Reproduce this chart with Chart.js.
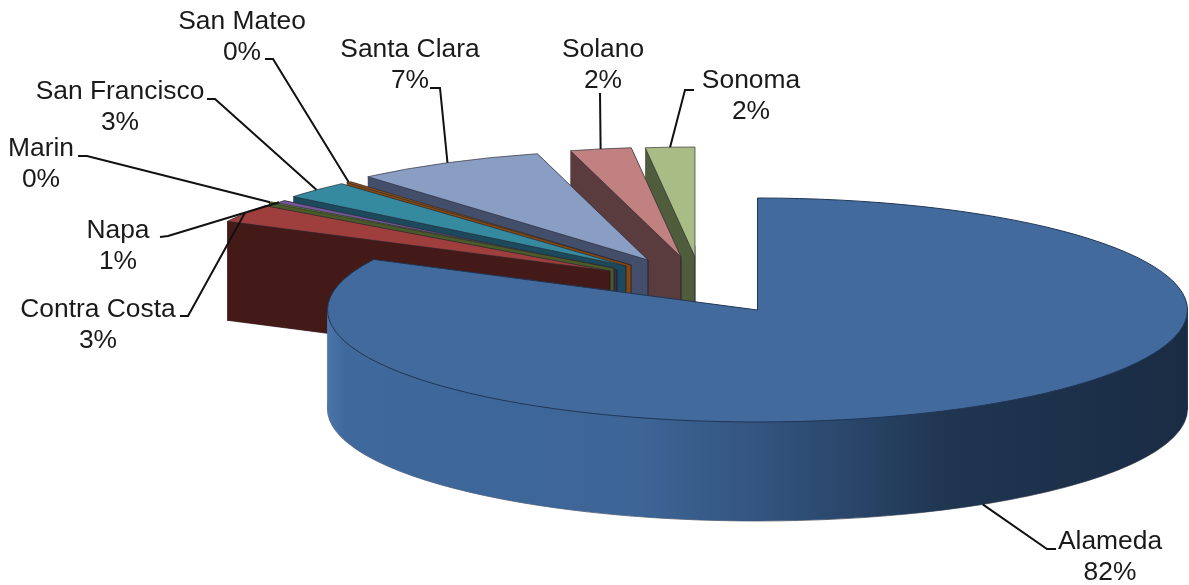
<!DOCTYPE html>
<html>
<head>
<meta charset="utf-8">
<title>Counties</title>
<script src="https://cdn.jsdelivr.net/npm/chart.js@4"></script>
<style>
    html, body { margin: 0; padding: 0; background: #fff; }
    canvas { display: block; }
</style>
</head>
<body>
<canvas id="pieChart" width="1189" height="585"></canvas>
<script>
const counties = ['Alameda', 'Contra Costa', 'Marin', 'Napa', 'San Francisco', 'San Mateo', 'Santa Clara', 'Solano', 'Sonoma'];
const shares = [82.45, 2.67, 0.15, 0.6, 2.6, 0.2, 7.18, 2.3, 1.85];

// colours of the top faces and of the side walls
const topColors = ['#436a9c', '#9e3f3d', '#77923c', '#6f5796', '#368a9f', '#8f5118', '#8a9dc3', '#c08180', '#a9bc86'];
const wallColors = ['#3d6596', '#441a18', '#4a5a28', '#3a2d52', '#1c4a5c', '#85490f', '#434e6a', '#5b3c3e', '#505d3c'];

// where each exploded slice has its point, and how big it is drawn
const centerX = [757.5, 610, 614, 617, 626, 631, 648, 681, 695];
const centerY = [310, 271, 268, 270, 266, 265, 260, 257, 257];
const radiusX = [430, 429, 429, 429, 429, 429, 429, 429, 429];
const radiusY = [112, 110, 110, 110, 110, 110, 110, 110, 110];
const depth = 99;

// label centre and baselines, then the elbow of the leader line
const labelX = [1110, 98, 41, 118, 120, 242, 410, 603, 751];
const labelY = [549, 317, 156, 238, 99, 29, 57, 57, 88];
const elbowA = [[1056, 549], [180, 316], [78, 156], [160, 237], [207, 99], [265, 59], [430, 88], [600, 93], [694, 90]];
const elbowB = [[1047, 549], [188, 316], [87, 156], [168, 236], [215, 99], [273, 59], [440, 88], [600, 93], [685, 90]];

function drawArc(ctx, arc, i, color, shift) {
    const sx = radiusX[i] / arc.outerRadius;
    const sy = radiusY[i] / arc.outerRadius;
    const saved = arc.options;
    ctx.save();
    ctx.translate(centerX[i], centerY[i] + shift);
    ctx.scale(sx, sy);
    ctx.translate(-arc.x, -arc.y);
    arc.options = Object.assign(Object.create(saved), { backgroundColor: color });
    arc.draw(ctx);
    arc.options = saved;
    ctx.restore();
}

function outline(ctx, arc, i, shift, color) {
    ctx.beginPath();
    ctx.moveTo(centerX[i], centerY[i] + shift);
    ctx.ellipse(centerX[i], centerY[i] + shift, radiusX[i], radiusY[i], 0, arc.startAngle, arc.endAngle);
    ctx.closePath();
    ctx.strokeStyle = color;
    ctx.lineWidth = 1;
    ctx.stroke();
}

// flat side of a slice, from its point out to the rim at this angle
function sideFace(ctx, i, angle, color) {
    const x = centerX[i] + Math.cos(angle) * radiusX[i];
    const y = centerY[i] + Math.sin(angle) * radiusY[i];
    ctx.beginPath();
    ctx.moveTo(centerX[i], centerY[i]);
    ctx.lineTo(x, y);
    ctx.lineTo(x, y + depth);
    ctx.lineTo(centerX[i], centerY[i] + depth);
    ctx.closePath();
    ctx.fillStyle = color;
    ctx.fill();
}

function wallGradient(ctx, arc, i) {
    const sx = radiusX[i] / arc.outerRadius;
    const toLocal = x => arc.x + (x - centerX[i]) / sx;
    const left = 328, right = 1187;
    const g = ctx.createLinearGradient(toLocal(left), 0, toLocal(right), 0);
    const stops = [[328, '#4b75a9'], [345, '#3f689c'], [640, '#3d6596'], [800, '#2f4e76'], [950, '#1f3550'], [1187, '#1a2c44']];
    stops.forEach(s => g.addColorStop((s[0] - left) / (right - left), s[1]));
    return g;
}

const pie3d = {
    id: 'pie3d',
    beforeDatasetDraw(chart) {
        const ctx = chart.ctx;
        const arcs = chart.getDatasetMeta(0).data;
        // back slices first, Alameda last since it sits in front of all
        const order = arcs.map((a, i) => i).slice(1).reverse().concat([0]);
        order.forEach(i => {
            const arc = arcs[i];
            const wall = i === 0 ? wallGradient(ctx, arc, i) : wallColors[i];
            outline(ctx, arc, i, depth, 'rgba(30,30,40,0.6)');
            for (let d = depth; d > 0; d--) drawArc(ctx, arc, i, wall, d);
            if (i > 0) {
                sideFace(ctx, i, arc.startAngle, wall);
                sideFace(ctx, i, arc.endAngle, wall);
                ctx.beginPath();
                ctx.moveTo(centerX[i], centerY[i]);
                ctx.lineTo(centerX[i], centerY[i] + depth);
                ctx.strokeStyle = 'rgba(20,20,30,0.7)';
                ctx.lineWidth = 1;
                ctx.stroke();
            }
            drawArc(ctx, arc, i, topColors[i], 0);
            outline(ctx, arc, i, 0, i === 0 ? '#1f3656' : 'rgba(40,40,50,0.65)');
        });
        return false;
    },
    afterDraw(chart) {
        const ctx = chart.ctx;
        const arcs = chart.getDatasetMeta(0).data;
        ctx.save();
        ctx.fillStyle = '#1a1a1a';
        ctx.font = '26.4px "Liberation Sans", Arial, sans-serif';
        ctx.textAlign = 'center';
        counties.forEach((name, i) => {
            ctx.fillText(name, labelX[i], labelY[i]);
            ctx.fillText(Math.round(shares[i]) + '%', labelX[i], labelY[i] + 31);

            // leader line ends on the rim, halfway along the slice
            const mid = (arcs[i].startAngle + arcs[i].endAngle) / 2;
            const endX = centerX[i] + Math.cos(mid) * radiusX[i];
            const endY = centerY[i] + Math.sin(mid) * radiusY[i] + (i === 0 ? depth : 0);
            ctx.beginPath();
            ctx.moveTo(elbowA[i][0], elbowA[i][1]);
            ctx.lineTo(elbowB[i][0], elbowB[i][1]);
            ctx.lineTo(endX, endY);
            ctx.strokeStyle = '#111';
            ctx.lineWidth = 2;
            ctx.stroke();
        });
        ctx.restore();
    }
};

new Chart(document.getElementById('pieChart'), {
    type: 'pie',
    data: {
        labels: counties,
        datasets: [{ data: shares, backgroundColor: topColors, borderWidth: 0 }]
    },
    options: {
        responsive: false,
        animation: false,
        plugins: { legend: { display: false }, tooltip: { enabled: false } }
    },
    plugins: [pie3d]
});
</script>
</body>
</html>
